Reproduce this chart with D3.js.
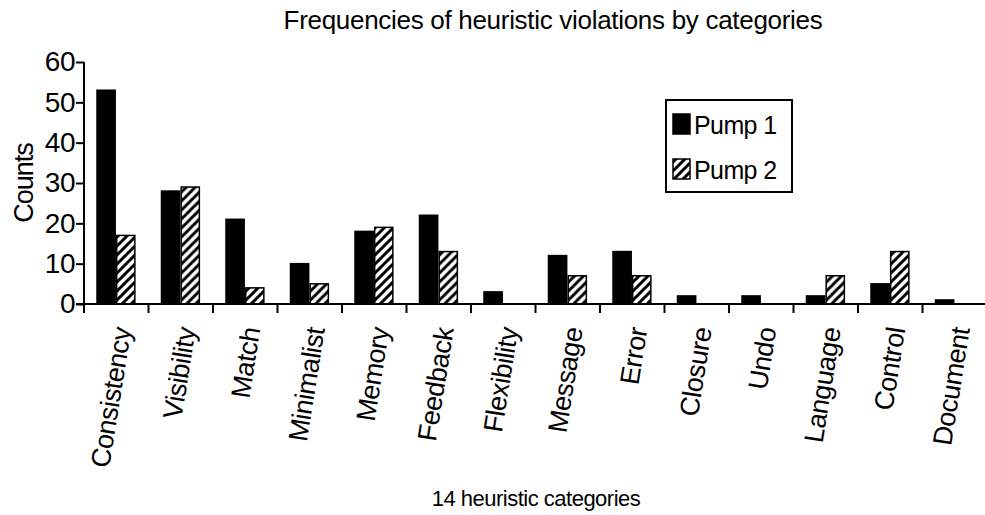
<!DOCTYPE html>
<html>
<head>
<meta charset="utf-8">
<script src="https://cdn.jsdelivr.net/npm/d3@7"></script>
<style>
  body { margin: 0; background: #fff; }
  text { font-family: "Liberation Sans", Arial, sans-serif; fill: #000; }
</style>
</head>
<body>
<svg id="chart"></svg>
<script>
// Data
const categories = [
  "Consistency", "Visibility", "Match", "Minimalist", "Memory", "Feedback",
  "Flexibility", "Message", "Error", "Closure", "Undo", "Language",
  "Control", "Document",
];
const pump1 = [53, 28, 21, 10, 18, 22, 3, 12, 13, 2, 2, 2, 5, 1];
const pump2 = [17, 29, 4, 5, 19, 13, 0, 7, 7, 0, 0, 7, 13, 0];
const seriesNames = ["Pump 1", "Pump 2"];
const yTicks = [0, 10, 20, 30, 40, 50, 60];

const width = 985;
const height = 515;

const svg = d3.select("#chart").attr("width", width).attr("height", height);

// Hatch pattern for Pump 2
const defs = svg.append("defs");
const hatch = defs
  .append("pattern")
  .attr("id", "hatch")
  .attr("patternUnits", "userSpaceOnUse")
  .attr("width", 9)
  .attr("height", 9);
hatch.append("rect").attr("width", 9).attr("height", 9).attr("fill", "#fff");
hatch
  .append("path")
  .attr("d", "M-2,2 l4,-4 M0,9 l9,-9 M7,11 l4,-4")
  .attr("stroke", "#000")
  .attr("stroke-width", 3);

const fill = (i) => (i === 0 ? "#000" : "url(#hatch)");

// Plot area
const x0 = 84;
const x1 = 987;
const yBottom = 304;
const yTop = 62;

const xScale = d3.scaleBand().domain(categories).range([x0, x1]).padding(0);
const step = xScale.step();
const inner = d3
  .scaleBand()
  .domain([0, 1])
  .range([step * 0.19, step * 0.8])
  .padding(0);

const yScale = d3.scaleLinear().domain([0, 60]).range([yBottom, yTop]);

// Bars
const groups = svg
  .append("g")
  .selectAll("g")
  .data(categories)
  .enter()
  .append("g")
  .attr("transform", (d) => `translate(${xScale(d)},0)`);

groups.each(function (d, i) {
  [pump1[i], pump2[i]].forEach((v, j) => {
    if (v <= 0) return;
    d3.select(this)
      .append("rect")
      .attr("x", inner(j) + 0.75)
      .attr("y", yScale(v))
      .attr("width", inner.bandwidth() - 1.5)
      .attr("height", yBottom - yScale(v))
      .attr("fill", fill(j))
      .attr("stroke", "#000")
      .attr("stroke-width", 1.5);
  });
});

// Y axis
const yAxis = d3.axisLeft(yScale).tickValues(yTicks).tickSize(8).tickPadding(1);
svg
  .append("g")
  .attr("transform", `translate(${x0},0)`)
  .call(yAxis)
  .call((g) => g.select(".domain").attr("stroke-width", 2).attr("d", `M0,${yTop}V${yBottom}`))
  .call((g) => g.selectAll(".tick line").attr("stroke-width", 2))
  .selectAll("text")
  .attr("font-size", "28px")
  .attr("font-family", "Liberation Sans, Arial, sans-serif")
  .attr("letter-spacing", "-0.5px");

// X axis with ticks between categories
const boundaries = d3.range(categories.length + 1).map((i) => x0 + i * step);
const xAxisG = svg.append("g");
xAxisG
  .append("line")
  .attr("x1", x0 - 8)
  .attr("x2", x1)
  .attr("y1", yBottom)
  .attr("y2", yBottom)
  .attr("stroke", "#000")
  .attr("stroke-width", 2);
xAxisG
  .selectAll(".xt")
  .data(boundaries)
  .enter()
  .append("line")
  .attr("x1", (d) => d)
  .attr("x2", (d) => d)
  .attr("y1", yBottom)
  .attr("y2", yBottom + 9)
  .attr("stroke", "#000")
  .attr("stroke-width", 2);

// Rotated category labels
svg
  .append("g")
  .selectAll("text")
  .data(categories)
  .enter()
  .append("text")
  .attr("transform", (d) => `translate(${xScale(d) + step / 2 + 15},${yBottom + 25}) rotate(-81)`)
  .attr("text-anchor", "end")
  .attr("font-size", "27px")
  .attr("letter-spacing", "-0.5px")
  .text((d) => d);

// Title and axis labels
svg
  .append("text")
  .attr("x", 553)
  .attr("y", 29)
  .attr("text-anchor", "middle")
  .attr("font-size", "26px")
  .attr("letter-spacing", "-0.3px")
  .text("Frequencies of heuristic violations by categories");

svg
  .append("text")
  .attr("transform", "translate(33,183) rotate(-90)")
  .attr("text-anchor", "middle")
  .attr("font-size", "27px")
  .attr("letter-spacing", "-1px")
  .text("Counts");

svg
  .append("text")
  .attr("x", 536)
  .attr("y", 506)
  .attr("text-anchor", "middle")
  .attr("font-size", "22px")
  .attr("letter-spacing", "-0.5px")
  .text("14 heuristic categories");

// Legend
const legend = svg.append("g").attr("transform", "translate(666,100)");
legend
  .append("rect")
  .attr("width", 126)
  .attr("height", 92)
  .attr("fill", "#fff")
  .attr("stroke", "#000")
  .attr("stroke-width", 2);

seriesNames.forEach((name, i) => {
  const row = legend.append("g").attr("transform", `translate(0,${24 + i * 45})`);
  row
    .append("rect")
    .attr("x", 7)
    .attr("y", -10)
    .attr("width", 17)
    .attr("height", 20)
    .attr("fill", fill(i))
    .attr("stroke", "#000")
    .attr("stroke-width", 1.5);
  row
    .append("text")
    .attr("x", 28)
    .attr("y", 10)
    .attr("font-size", "25px")
    .attr("letter-spacing", "-0.6px")
    .text(name);
});
</script>
</body>
</html>
